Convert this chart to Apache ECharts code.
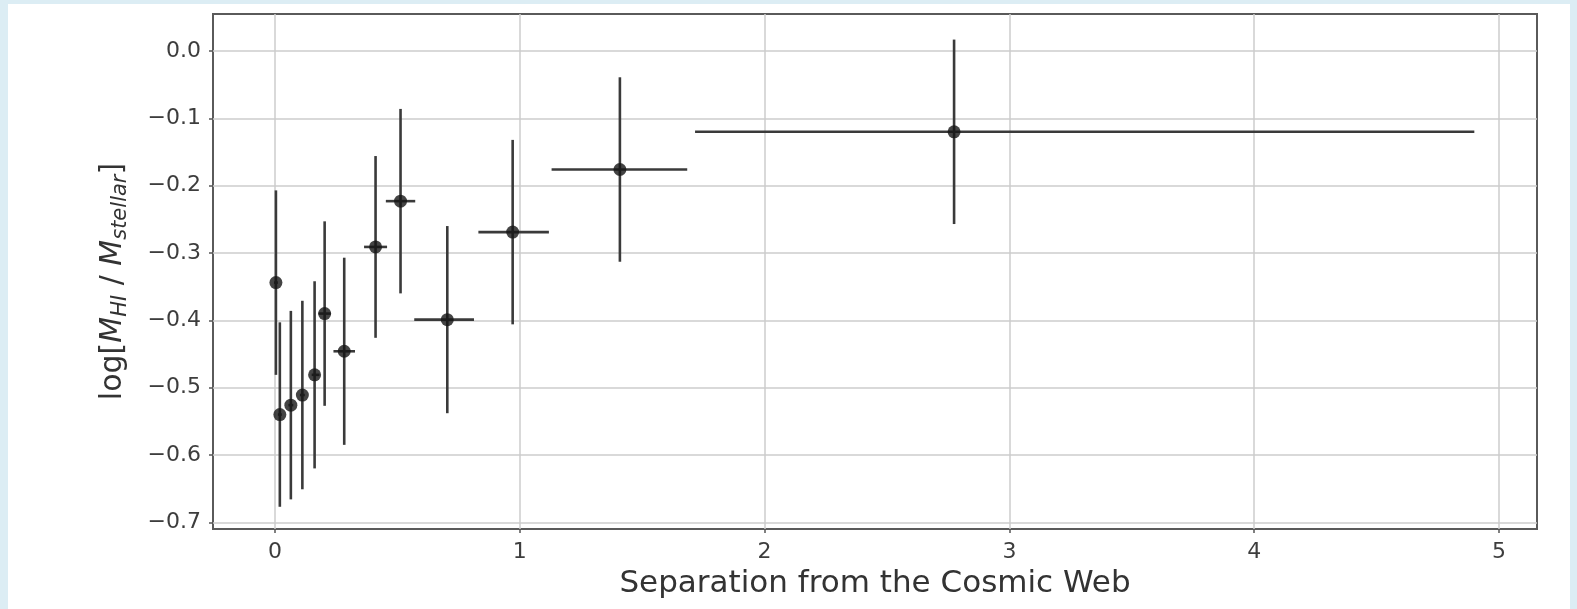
<!DOCTYPE html>
<html><head><meta charset="utf-8">
<script src="https://cdn.jsdelivr.net/npm/echarts@6/dist/echarts.min.js"></script>
<style>
html,body{margin:0;padding:0;background:#dcedf4;width:1577px;height:609px;overflow:hidden}
#panel{position:absolute;left:8px;top:4px;width:1562px;height:605px;background:#fff}
#chart{position:absolute;left:0;top:0;width:1577px;height:609px}
</style></head><body><div id="panel"></div><div id="chart"></div>
<script>
// Data
const sepX      = [0.004, 0.020, 0.065, 0.112, 0.162, 0.203, 0.283, 0.411, 0.513, 0.704, 0.971, 1.409, 2.774];
const logRatio  = [-0.344, -0.540, -0.526, -0.511, -0.481, -0.390, -0.446, -0.291, -0.223, -0.399, -0.269, -0.176, -0.120];
const yErr      = [0.137, 0.137, 0.140, 0.140, 0.139, 0.137, 0.139, 0.135, 0.137, 0.139, 0.137, 0.137, 0.137];
const xErrLow   = [0.008, 0.008, 0.010, 0.010, 0.012, 0.025, 0.044, 0.047, 0.060, 0.135, 0.140, 0.279, 1.058];
const xErrHigh  = [0.008, 0.008, 0.010, 0.010, 0.020, 0.025, 0.044, 0.047, 0.060, 0.109, 0.148, 0.275, 2.125];
const xTicks    = [0, 1, 2, 3, 4, 5];
const yTicks    = [-0.7, -0.6, -0.5, -0.4, -0.3, -0.2, -0.1, 0.0];

const rows = sepX.map((x, i) => [x, logRatio[i], x - xErrLow[i], x + xErrHigh[i], logRatio[i] - yErr[i], logRatio[i] + yErr[i]]);

const FONT = 'DejaVu Sans';
const barColor = '#3a3a3a';
const labelColor = '#3d3d3d';
const chart = echarts.init(document.getElementById('chart'), null, {renderer: 'canvas'});
chart.setOption({
  backgroundColor: 'transparent',
  animation: false,
  grid: {left: 213, right: 40, top: 14, bottom: 80, show: true, borderColor: '#5a5a5a', borderWidth: 2, backgroundColor: 'transparent'},
  xAxis: {
    type: 'value', min: -0.253, max: 5.155, splitNumber: 5,
    axisLine: {show: false, onZero: false},
    axisTick: {show: true, inside: false, length: 4, customValues: xTicks, lineStyle: {color: '#555', width: 1.5}},
    axisLabel: {customValues: xTicks, fontSize: 22, color: labelColor, fontFamily: FONT, margin: 12,
      formatter: v => String(v)},
    splitLine: {show: true, lineStyle: {color: '#cccccc', width: 1.5}},
    name: 'Separation from the Cosmic Web', nameLocation: 'middle', nameGap: 39,
    nameTextStyle: {fontSize: 31, color: '#333', fontFamily: FONT}
  },
  yAxis: {
    type: 'value', min: -0.710, max: 0.055, splitNumber: 8,
    axisLine: {show: false, onZero: false},
    axisTick: {show: true, inside: false, length: 4, customValues: yTicks, lineStyle: {color: '#555', width: 1.5}},
    axisLabel: {customValues: yTicks, fontSize: 22, color: labelColor, fontFamily: FONT, margin: 12,
      formatter: v => (v < -1e-9 ? '\u2212' : '') + Math.abs(v).toFixed(1)},
    splitLine: {show: true, lineStyle: {color: '#cccccc', width: 1.5}},
    name: '{n|log[}{i|M}{s|HI}{n| / }{i|M}{s|stellar}{n|]}', nameLocation: 'middle', nameGap: 82, nameRotate: 90,
    nameTextStyle: {
      color: '#333', fontFamily: FONT, fontSize: 30, padding: [0, 20, 0, 0],
      rich: {
        n: {fontSize: 30, fontFamily: FONT, color: '#333', lineHeight: 35},
        i: {fontSize: 30, fontFamily: FONT, fontStyle: 'italic', color: '#333', lineHeight: 35},
        s: {fontSize: 21, fontFamily: FONT, fontStyle: 'italic', color: '#333', lineHeight: 19, verticalAlign: 'bottom'}
      }
    }
  },
  series: [
    {
      type: 'custom', data: rows, encode: {x: 0, y: 1}, z: 3,
      renderItem: function (params, api) {
        const x = api.value(0), y = api.value(1);
        const a = api.coord([api.value(2), y]), b = api.coord([api.value(3), y]);
        const t = api.coord([x, api.value(5)]), d = api.coord([x, api.value(4)]);
        return {type: 'group', children: [
          {type: 'line', shape: {x1: a[0], y1: a[1], x2: b[0], y2: b[1]}, style: {stroke: barColor, lineWidth: 2.6}},
          {type: 'line', shape: {x1: t[0], y1: t[1], x2: d[0], y2: d[1]}, style: {stroke: barColor, lineWidth: 2.6}}
        ]};
      }
    },
    {
      type: 'scatter', data: rows.map(r => [r[0], r[1]]), symbol: 'circle', symbolSize: 13, z: 4,
      itemStyle: {color: '#151515'}
    }
  ]
});
</script></body></html>
